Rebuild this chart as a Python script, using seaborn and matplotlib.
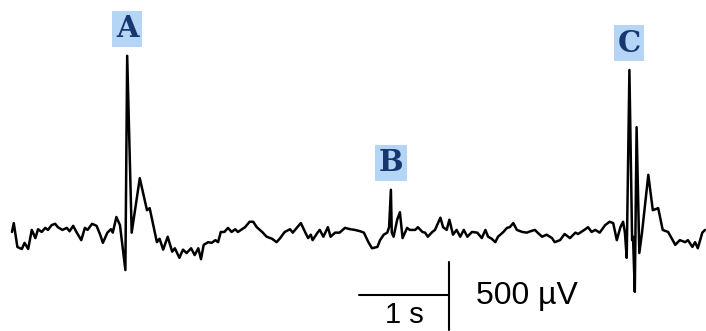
import numpy as np
import pandas as pd
import matplotlib
matplotlib.use("Agg")
import matplotlib.pyplot as plt
import seaborn as sns

# trace: time (s) and amplitude (µV)
time_s = [0.00, 0.02, 0.06, 0.09, 0.11, 0.14, 0.18, 0.22, 0.26, 0.29,
          0.33, 0.37, 0.40, 0.44, 0.48, 0.51, 0.56, 0.61, 0.64, 0.68,
          0.72, 0.77, 0.81, 0.84, 0.89, 0.94, 0.98, 1.01, 1.06, 1.10,
          1.12, 1.16, 1.20, 1.22, 1.26, 1.28, 1.33, 1.42, 1.50, 1.53,
          1.61, 1.64, 1.68, 1.73, 1.78, 1.81, 1.86, 1.90, 1.94, 1.99,
          2.03, 2.07, 2.10, 2.13, 2.18, 2.22, 2.26, 2.29, 2.32, 2.36,
          2.40, 2.44, 2.48, 2.51, 2.59, 2.64, 2.68, 2.72, 2.78, 2.83,
          2.89, 2.94, 2.98, 3.03, 3.09, 3.12, 3.17, 3.21, 3.26, 3.29,
          3.32, 3.34, 3.40, 3.42, 3.46, 3.51, 3.54, 3.59, 3.64, 3.70,
          3.76, 3.81, 3.87, 3.91, 3.96, 4.00, 4.06, 4.09, 4.13, 4.17,
          4.19, 4.21, 4.22, 4.24, 4.28, 4.31, 4.34, 4.39, 4.42, 4.48,
          4.51, 4.56, 4.59, 4.62, 4.67, 4.70, 4.76, 4.79, 4.83, 4.86,
          4.90, 4.94, 4.98, 5.02, 5.06, 5.11, 5.17, 5.22, 5.26, 5.29,
          5.33, 5.37, 5.40, 5.46, 5.50, 5.53, 5.57, 5.61, 5.67, 5.72,
          5.76, 5.81, 5.84, 5.89, 5.94, 6.00, 6.03, 6.09, 6.14, 6.20,
          6.26, 6.29, 6.37, 6.40, 6.44, 6.48, 6.53, 6.59, 6.64, 6.68,
          6.72, 6.76, 6.79, 6.81, 6.83, 6.86, 6.89, 6.90, 6.92, 6.94,
          6.97, 7.00, 7.07, 7.12, 7.18, 7.23, 7.29, 7.37, 7.42, 7.48,
          7.51, 7.56, 7.59, 7.62, 7.67, 7.70]
amp_uV = [0, 65, -110, -120, -125, -80, -125, 15, -45, 20,
          0, 30, 15, 50, 60, 35, 15, 30, 5, 45,
          -5, -60, 30, 15, 60, 45, -20, -80, -5, 20,
          -5, 110, 50, -60, -280, 1295, -5, 395, 160, 175,
          -75, -50, -130, -35, -145, -120, -190, -130, -155, -120,
          -170, -120, -200, -95, -75, -80, -60, -75, 0, 0,
          30, 0, 20, 0, 35, 75, 75, 35, 0, -35,
          -50, -75, -45, 0, 20, -5, 35, 65, -5, -45,
          -20, -60, 0, 15, -35, 35, -35, -5, -5, 30,
          20, 15, 5, -5, -75, -120, -110, -60, -20, -5,
          35, 310, -5, -35, 90, 145, -45, 30, 15, 15,
          35, 0, -5, -35, 0, 15, 105, 35, 15, 90,
          -20, 15, -35, 15, -35, 0, -5, -45, 15, -35,
          -50, -75, -35, 0, 30, 35, 65, 15, 0, -5,
          5, 15, -5, -35, -20, -45, -75, -60, -15, -45,
          -5, -15, 20, 35, 0, 15, -5, 50, 75, 65,
          -60, 35, 75, -5, -190, 1190, -60, -35, -440, 770,
          -155, -5, 420, 160, 175, 15, 0, -95, -60, -75,
          -60, -110, -75, -120, -5, 15]

# marked events
event_labels = ["A", "B", "C"]
event_times = [1.28, 4.21, 6.86]

# scale bar
scale_t = 1.0     # s
scale_v = 500     # µV

df = pd.DataFrame({"t": time_s, "v": amp_uV})

sns.set_theme(style="white")
fig = plt.figure(figsize=(7.06, 3.31), dpi=100)
ax = fig.add_axes([0, 0, 1, 1])

sns.lineplot(data=df, x="t", y="v", sort=False, estimator=None,
             color="black", linewidth=1.8, ax=ax)

for lab, et in zip(event_labels, event_times):
    peak = df.loc[(df["t"] - et).abs().idxmin(), "v"]
    ax.annotate(lab, xy=(et, peak), xytext=(0, 27), textcoords="offset pixels",
                ha="center", va="center", fontsize=21, color="#17376f",
                family="DejaVu Serif", fontweight="bold",
                bbox=dict(boxstyle="square,pad=0.12", fc="#b5d5f7", ec="none"))

# scale bar: horizontal 1 s, vertical 500 µV
x0, y0 = 3.86, -463
ax.plot([x0, x0 + scale_t], [y0, y0], color="black", lw=1.5)
ax.plot([x0 + scale_t, x0 + scale_t], [-220, -220 - scale_v],
        color="black", lw=1.5)
ax.text(x0 + scale_t / 2, y0 - 205, f"{scale_t:g} s", ha="center",
        va="baseline", fontsize=21, family="Liberation Sans", color="black")
ax.text(x0 + scale_t + 0.3, y0 - 5, f"{scale_v} µV", ha="left", va="center",
        fontsize=23, family="Liberation Sans", color="black")

ax.set_xlim(-0.133, 7.711)
ax.set_ylim(-728, 1705)
ax.axis("off")

fig.savefig("out.png", dpi=100)
